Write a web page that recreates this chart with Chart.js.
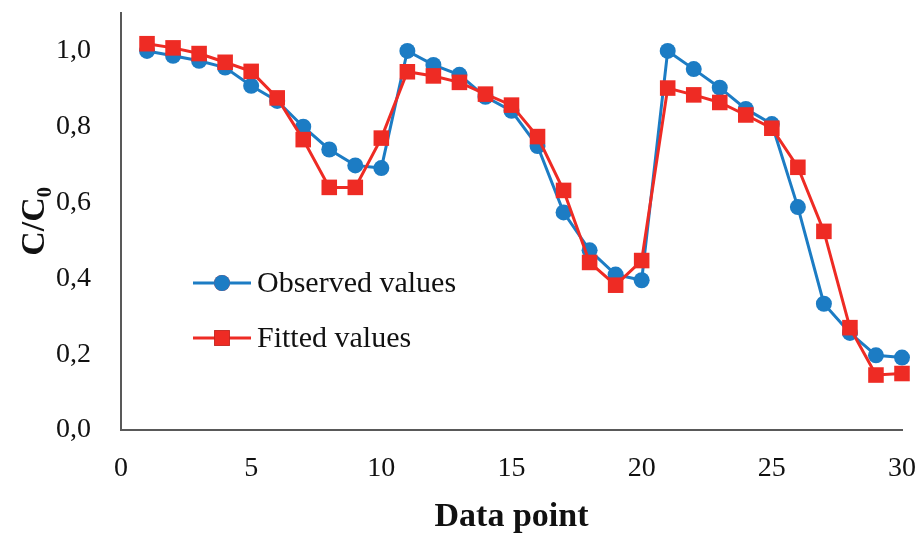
<!DOCTYPE html>
<html>
<head>
<meta charset="utf-8">
<script src="https://cdn.jsdelivr.net/npm/chart.js"></script>
<style>
  html, body { margin: 0; padding: 0; background: #fff; }
  #wrap { width: 916px; height: 534px; }
</style>
</head>
<body>
<div id="wrap"><canvas id="chart" width="916" height="534"></canvas></div>
<script>
// Data point index (1..30)
const dataPoints = [1, 2, 3, 4, 5, 6, 7, 8, 9, 10, 11, 12, 13, 14, 15, 16, 17, 18, 19, 20, 21, 22, 23, 24, 25, 26, 27, 28, 29, 30];

const observed = [1.00, 0.987, 0.974, 0.956, 0.908, 0.868, 0.80, 0.74, 0.698, 0.691,
                  1.00, 0.963, 0.937, 0.879, 0.842, 0.749, 0.574, 0.474, 0.41, 0.395,
                  1.00, 0.952, 0.903, 0.847, 0.807, 0.588, 0.333, 0.256, 0.197, 0.191];

const fitted = [1.019, 1.008, 0.993, 0.97, 0.946, 0.876, 0.766, 0.64, 0.64, 0.77,
                0.945, 0.934, 0.917, 0.886, 0.857, 0.774, 0.632, 0.442, 0.382, 0.447,
                0.902, 0.884, 0.864, 0.831, 0.796, 0.693, 0.524, 0.27, 0.145, 0.149];

const yTicks = [0, 0.2, 0.4, 0.6, 0.8, 1.0];
const xTicks = [0, 5, 10, 15, 20, 25, 30];

const BLUE = "#1c7cc4";
const RED = "#ee2b24";
const AXIS = "#595959";
const SERIF = "'Liberation Serif', 'Times New Roman', serif";

const toXY = (vals) => vals.map((v, i) => ({ x: dataPoints[i], y: v }));

// draws the legend inside the plot, as in the original
const innerLegend = {
  id: "innerLegend",
  afterDraw(chart) {
    const ctx = chart.ctx;
    const rows = [
      { ds: chart.data.datasets[0], y: 283 },
      { ds: chart.data.datasets[1], y: 338 }
    ];
    ctx.save();
    rows.forEach(({ ds, y }) => {
      ctx.strokeStyle = ds.borderColor;
      ctx.lineWidth = 3;
      ctx.beginPath();
      ctx.moveTo(193, y);
      ctx.lineTo(251, y);
      ctx.stroke();
      Chart.helpers.drawPoint(ctx, {
        pointStyle: ds.pointStyle,
        radius: ds.pointRadius,
        borderWidth: 0
      }, 222, y);
      ctx.fillStyle = ds.backgroundColor;
      ctx.fill();
      ctx.fillStyle = "#111";
      ctx.font = "30px " + SERIF;
      ctx.textBaseline = "middle";
      ctx.textAlign = "left";
      ctx.fillText(ds.label, 257, y + 1);
    });
    ctx.restore();
  }
};

new Chart(document.getElementById("chart"), {
  type: "line",
  data: {
    datasets: [
      {
        label: "Observed values",
        data: toXY(observed),
        borderColor: BLUE,
        backgroundColor: BLUE,
        pointStyle: "circle",
        pointRadius: 8,
        pointBorderWidth: 0,
        borderWidth: 3,
        order: 1
      },
      {
        label: "Fitted values",
        data: toXY(fitted),
        borderColor: RED,
        backgroundColor: RED,
        pointStyle: "rect",
        pointRadius: 11,
        pointBorderWidth: 0,
        borderWidth: 3,
        order: 0
      }
    ]
  },
  options: {
    responsive: false,
    animation: false,
    clip: false,
    layout: { padding: { top: 13, right: 14, left: 0, bottom: 0 } },
    plugins: {
      legend: { display: false },
      tooltip: { enabled: false }
    },
    scales: {
      x: {
        type: "linear",
        min: 0,
        max: 30,
        afterFit: (s) => {
          s.height = 104;
          s.paddingLeft = 0;
          s.paddingRight = 0;
        },
        afterBuildTicks: (s) => { s.ticks = xTicks.map((v) => ({ value: v })); },
        grid: { display: false, drawTicks: false },
        border: { color: AXIS, width: 2 },
        ticks: {
          padding: 22,
          color: "#111",
          maxRotation: 0,
          font: { family: SERIF, size: 28 }
        },
        title: {
          display: true,
          text: "Data point",
          color: "#111",
          padding: 0,
          font: { family: SERIF, size: 34, weight: "bold", lineHeight: 1 }
        }
      },
      y: {
        min: 0,
        max: 1.1,
        afterFit: (s) => {
          s.width = 121;
          s.paddingTop = 0;
          s.paddingBottom = 0;
        },
        afterBuildTicks: (s) => { s.ticks = yTicks.map((v) => ({ value: v })); },
        grid: { display: false, drawTicks: false },
        border: { color: AXIS, width: 2 },
        ticks: {
          padding: 30,
          color: "#111",
          font: { family: SERIF, size: 28 },
          callback: (v) => Number(v).toFixed(1).replace(".", ",")
        },
        title: {
          display: true,
          text: "C/C\u2080",
          color: "#111",
          padding: { top: 18, bottom: 0 },
          font: { family: SERIF, size: 34, weight: "bold", lineHeight: 1 }
        }
      }
    }
  },
  plugins: [innerLegend]
});
</script>
</body>
</html>
